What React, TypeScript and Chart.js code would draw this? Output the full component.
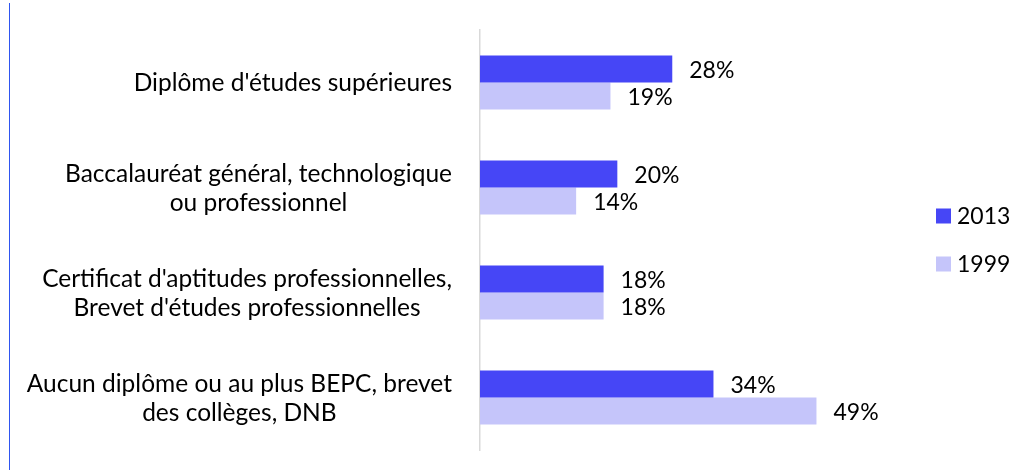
import React, { useEffect, useRef } from "react";
import { Chart, registerables } from "chart.js";

Chart.register(...registerables);

const categories: string[][] = [
  ["Diplôme d'études supérieures"],
  ["Baccalauréat général, technologique", "ou professionnel"],
  ["Certificat d'aptitudes professionnelles,", "Brevet d'études professionnelles"],
  ["Aucun diplôme ou au plus BEPC, brevet", "des collèges, DNB"],
];
const seriesLabels = ["2013", "1999"];
const values2013 = [28, 20, 18, 34];
const values1999 = [19, 14, 18, 49];
const seriesColors = ["#4646F6", "#C5C5FA"];

const FONT = "Lato";

const valueLabels = {
  id: "valueLabels",
  afterDatasetsDraw(chart: any) {
    const ctx = chart.ctx;
    ctx.save();
    ctx.font = `23px ${FONT}`;
    ctx.fillStyle = "#000";
    ctx.textBaseline = "middle";
    ctx.textAlign = "left";
    chart.data.datasets.forEach((ds: any, di: number) => {
      const meta = chart.getDatasetMeta(di);
      meta.data.forEach((bar: any, i: number) => {
        ctx.fillText(ds.data[i] + "%", bar.x + 17, bar.y + 2);
      });
    });
    ctx.restore();
  },
};

// Category labels: each block right-aligned to the axis, lines centred within the block
const categoryLabels = {
  id: "categoryLabels",
  afterDraw(chart: any) {
    const ctx = chart.ctx;
    const scale = chart.scales.y;
    const lineH = 29;
    ctx.save();
    ctx.font = `24.5px ${FONT}`;
    ctx.fillStyle = "#000";
    ctx.textBaseline = "middle";
    ctx.textAlign = "center";
    const labels: string[][] = chart.data.labels;
    labels.forEach((lines: string[], i: number) => {
      const yc = scale.getPixelForTick(i);
      const w = Math.max(...lines.map((l) => ctx.measureText(l).width));
      const right = chart.chartArea.left - 28;
      const cx = right - w / 2;
      lines.forEach((l, j) => {
        ctx.fillText(l, cx, yc + (j - (lines.length - 1) / 2) * lineH + 1);
      });
    });
    ctx.restore();
  },
};

const customLegend = {
  id: "customLegend",
  afterDraw(chart: any) {
    const ctx = chart.ctx;
    const area = chart.chartArea;
    const cy = (area.top + area.bottom) / 2;
    const n = chart.data.datasets.length;
    const step = 48;
    ctx.save();
    ctx.font = `23px ${FONT}`;
    ctx.textBaseline = "middle";
    ctx.textAlign = "left";
    chart.data.datasets.forEach((ds: any, i: number) => {
      const yc = cy + (i - (n - 1) / 2) * step;
      const bx = chart.width - 74;
      ctx.fillStyle = ds.backgroundColor;
      ctx.fillRect(bx, yc - 7.5, 15, 15);
      ctx.fillStyle = "#000";
      ctx.fillText(ds.label, bx + 21, yc + 1);
    });
    ctx.restore();
  },
};

export default function App() {
  const ref = useRef<HTMLCanvasElement | null>(null);

  useEffect(() => {
    if (!ref.current) return;
    const chart = new Chart(ref.current, {
      type: "bar",
      data: {
        labels: categories,
        datasets: [
          {
            label: seriesLabels[0],
            data: values2013,
            backgroundColor: seriesColors[0],
            borderWidth: 0,
          },
          {
            label: seriesLabels[1],
            data: values1999,
            backgroundColor: seriesColors[1],
            borderWidth: 0,
          },
        ],
      },
      options: {
        indexAxis: "y",
        responsive: false,
        animation: false,
        layout: { padding: { left: 0, top: 30, right: 118, bottom: 20 } },
        datasets: {
          bar: { categoryPercentage: 0.514, barPercentage: 1.0 },
        },
        plugins: {
          legend: { display: false },
          tooltip: { enabled: false },
        },
        scales: {
          x: {
            display: false,
            min: 0,
            max: 60,
          },
          y: {
            grid: { display: false, drawTicks: false },
            border: { display: true, color: "#d9d9d9", width: 1.5 },
            ticks: { display: false },
            afterFit(scale: any) {
              scale.width = 480;
              scale.paddingTop = 0;
              scale.paddingBottom = 0;
            },
          },
        },
      },
      plugins: [valueLabels, categoryLabels, customLegend],
    } as any);
    return () => chart.destroy();
  }, []);

  return (
    <div
      style={{
        position: "fixed",
        left: 0,
        top: 0,
        width: 1010,
        height: 470,
        background: "#fff",
      }}
    >
      <canvas ref={ref} width={1010} height={470} style={{ display: "block" }} />
      <div
        style={{
          position: "absolute",
          left: 9,
          top: 3,
          width: 1,
          height: 467,
          background: "#2F55F0",
        }}
      />
    </div>
  );
}
